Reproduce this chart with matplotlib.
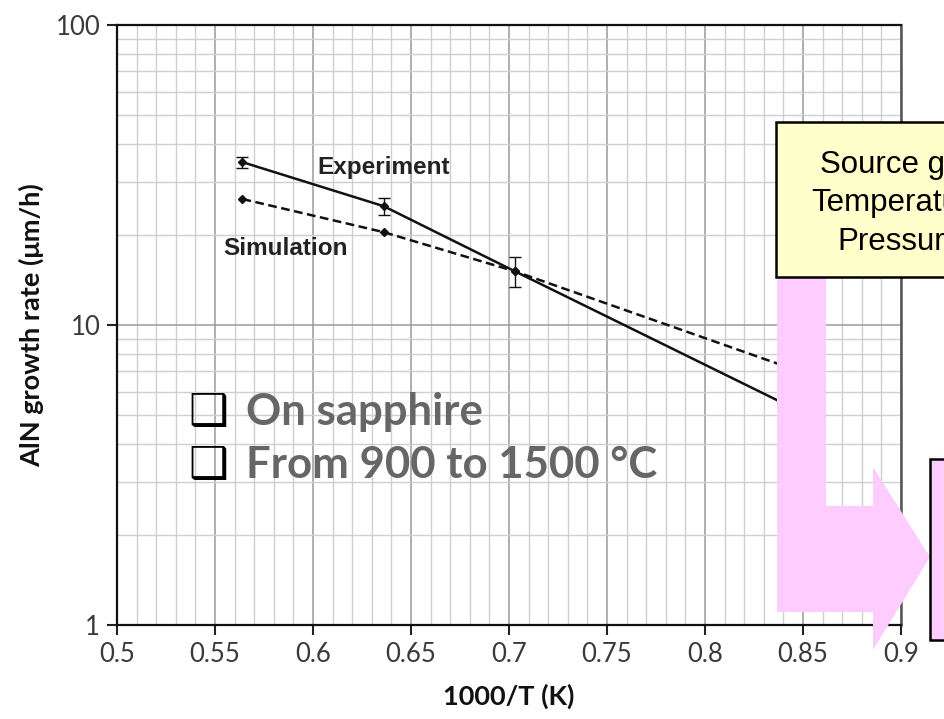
import matplotlib.pyplot as plt
import numpy as np
from matplotlib.patches import Polygon, Rectangle
from matplotlib.ticker import FixedLocator, MultipleLocator, NullFormatter

# =================================================
# --------------------- DATA ----------------------
# =================================================

inv_temp = [0.564, 0.636, 0.703, 0.8525]      # 1000/T (K)
experiment = [34.9, 24.9, 15.1, 5.0]          # um/h
experiment_err = [1.5, 1.7, 1.7, 0.5]
simulation = [26.3, 20.4, 15.1, 6.85]         # um/h

x_ticks = [0.5, 0.55, 0.6, 0.65, 0.7, 0.75, 0.8, 0.85, 0.9]
x_tick_labels = ['0.5', '0.55', '0.6', '0.65', '0.7', '0.75', '0.8', '0.85', '0.9']
y_ticks = [1, 10, 100]
y_tick_labels = ['1', '10', '100']

bullets = ['On sapphire', 'From 900 to 1500 \u00b0C']
box_lines = ['Source gas', 'Temperature', 'Pressure']

W, H = 944, 719
PINK = '#FFCCFF'


def px(x, y):
    # image pixel (from top-left) -> figure fraction
    return x / W, 1 - y / H


fig = plt.figure(figsize=(W / 100, H / 100), dpi=100)
ax = fig.add_axes([117 / W, 1 - 625 / H, 784 / W, 600 / H])

ax.set_yscale('log')
ax.set_xlim(0.5, 0.9)
ax.set_ylim(1, 100)

# grid
ax.xaxis.set_major_locator(FixedLocator(x_ticks))
ax.xaxis.set_minor_locator(MultipleLocator(0.01))
ax.set_xticks(x_ticks, x_tick_labels)
ax.set_yticks(y_ticks, y_tick_labels)
ax.yaxis.set_minor_formatter(NullFormatter())
ax.grid(which='minor', color='#cfcfcf', lw=1.0)
ax.grid(which='major', color='#9a9a9a', lw=1.1)
ax.set_axisbelow(True)

ax.tick_params(which='major', direction='out', length=7, width=1.5, color='#222222',
               labelsize=18.5, labelcolor='#3a3a3a', pad=5)
ax.tick_params(which='minor', length=0)
for lab in ax.get_xticklabels() + ax.get_yticklabels():
    lab.set_fontfamily('Lato')

for side in ['left', 'bottom', 'top']:
    ax.spines[side].set_color('#111111')
    ax.spines[side].set_linewidth(1.6)
ax.spines['right'].set_color('#555555')
ax.spines['right'].set_linewidth(1.8)

# series
ax.errorbar(inv_temp, experiment, yerr=experiment_err, color='#111111', lw=1.8,
            marker='D', markersize=4.5, capsize=4, elinewidth=1.0, capthick=1.0)
ax.plot(inv_temp, simulation, color='#111111', lw=1.8, ls=(0, (3.5, 1.8)),
        marker='D', markersize=4.5)

ax.text(0.602, 31.9, 'Experiment', family='Liberation Sans', weight='bold',
        fontsize=17.5, color='#222222', va='baseline')
ax.text(0.554, 17.1, 'Simulation', family='Liberation Sans', weight='bold',
        fontsize=17.5, color='#222222', va='baseline')

ax.set_xlabel('1000/T (K)', family='Lato', weight='bold', fontsize=19.5, color='#111111')
ax.set_ylabel('AlN growth rate (\u03bcm/h)', family='Lato', weight='bold', fontsize=19.5,
              color='#111111')
ax.xaxis.set_label_coords(0.5, -0.097)
ax.yaxis.set_label_coords(-0.093, 0.5)

# bullet text
for i, line in enumerate(bullets):
    base = 425 + 53 * i
    fig.text(*px(188, base), '\u2751', family='DejaVu Sans', fontsize=32,
             color='black', va='baseline')
    fig.text(*px(246, base), line, family='Lato', weight='bold', fontsize=31.5,
             color='#666666', va='baseline')

# bent arrow
arrow_pts = [(777, 277), (826, 277), (826, 506), (873, 506), (873, 467),
             (930, 557), (873, 650), (873, 612), (777, 612)]
fig.add_artist(Polygon([px(x, y) for x, y in arrow_pts], closed=True,
                       transform=fig.transFigure, facecolor=PINK, edgecolor='none',
                       zorder=5))

# yellow box with text (runs off the right edge, as in the reference)
x0, y0 = px(776, 277)
x1, y1 = px(1030, 122)
fig.add_artist(Rectangle((x0, y0), x1 - x0, y1 - y0, transform=fig.transFigure,
                         facecolor='#FFFFCC', edgecolor='black', lw=1.8, zorder=6))
for i, line in enumerate(box_lines):
    fig.text(*px(899.5, 173 + 38.5 * i), line, family='Liberation Sans', fontsize=22.5,
             color='black', ha='center', va='baseline', zorder=7)

# pink box at the arrow tip
x0, y0 = px(930, 640)
x1, y1 = px(1030, 459)
fig.add_artist(Rectangle((x0, y0), x1 - x0, y1 - y0, transform=fig.transFigure,
                         facecolor=PINK, edgecolor='black', lw=1.8, zorder=6))

fig.savefig('out.png', dpi=100, facecolor='white')
